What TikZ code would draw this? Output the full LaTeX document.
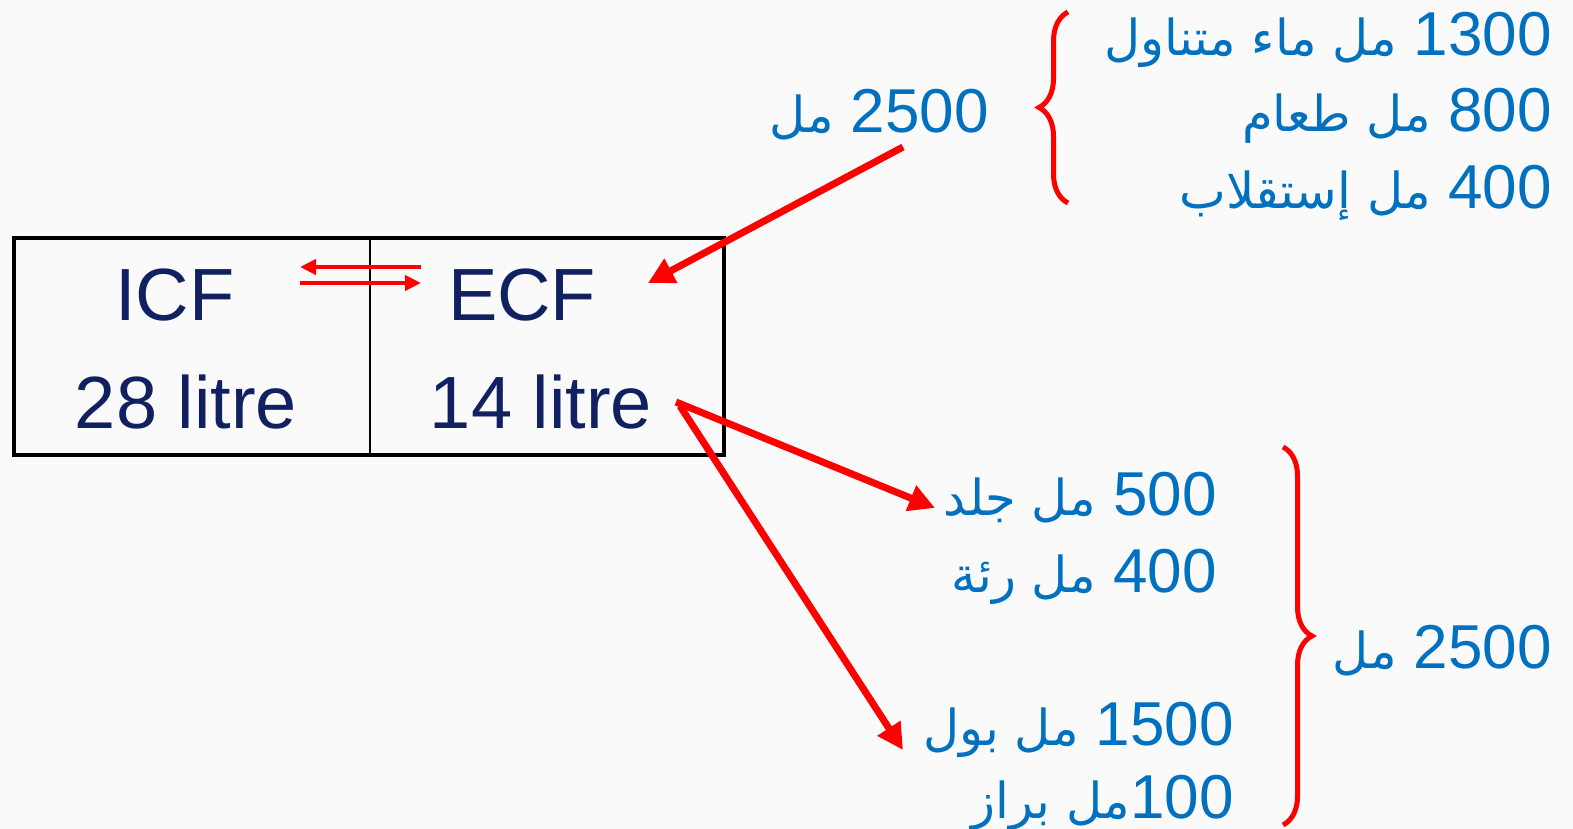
\documentclass[tikz,border=0pt]{standalone}
\usepackage{fontspec}
\setmainfont{Liberation Sans}
\newfontfamily\arabicfont[Script=Arabic,Scale=0.8]{DejaVu Sans}
\TeXXeTstate=1
\usetikzlibrary{arrows.meta,decorations.pathreplacing}
\definecolor{bgcol}{HTML}{FAFAFA}
\definecolor{labblue}{HTML}{0070C0}
\definecolor{navy}{HTML}{102060}
\definecolor{redline}{HTML}{FF0000}
\begin{document}
\begin{tikzpicture}[x=1pt,y=-1pt,
  lab/.style={text=labblue, font=\fontsize{62}{62}\selectfont, inner sep=0pt, anchor=base east},
  big/.style={text=navy, font=\fontsize{74}{74}\selectfont, inner sep=0pt, anchor=base},
  redarrow/.style={draw=redline, line width=7pt, -{Triangle[length=26pt,width=26pt]}},
  smallarrow/.style={draw=redline, line width=4pt, -{Triangle[length=16pt,width=15pt]}},
  bracestyle/.style={draw=redline, line width=5pt, decorate, decoration={brace,amplitude=29pt}}]
\fill[bgcol] (0,0) rectangle (1573,829);
\useasboundingbox (0,0) rectangle (1573,829);

% box
\node[draw, line width=4pt, minimum width=710pt, minimum height=217pt, inner sep=0pt, anchor=north west] (box) at (12,236) {};
\path (box.north) ++(1,0) coordinate (divtop) (box.south) ++(1,0) coordinate (divbot);
\draw[line width=1.5pt] (divtop) -- (divbot);

\node[big] (icf) at (175,320) {ICF};
\node[big] (icfvol) at (186,428) {28 litre};
\node[big] (ecf) at (522,320) {ECF};
\node[big] (ecfvol) at (541,428) {14 litre};

% exchange arrows
\coordinate (exA1) at (421,267);
\coordinate (exA2) at (300,267);
\coordinate (exB1) at (300,283);
\coordinate (exB2) at (421,283);
\draw[smallarrow] (exA1) -- (exA2);
\draw[smallarrow] (exB1) -- (exB2);

% intake
\node[lab] (in1) at (1552,56) {\beginR\beginL 1300\endL{} {\arabicfont مل ماء متناول}\endR};
\node[lab] (in2) at (1552,132) {\beginR\beginL 800\endL{} {\arabicfont مل طعام}\endR};
\node[lab] (in3) at (1552,208) {\beginR\beginL 400\endL{} {\arabicfont مل إستقلاب}\endR};
\node[lab] (intot) at (989,133) {\beginR\beginL 2500\endL{} {\arabicfont مل}\endR};
\draw[bracestyle] (1068,203) -- (1068,12);

% output
\node[lab] (out1) at (1217,515) {\beginR\beginL 500\endL{} {\arabicfont مل جلد}\endR};
\node[lab] (out2) at (1217,592) {\beginR\beginL 400\endL{} {\arabicfont مل رئة}\endR};
\node[lab] (out3) at (1234,745) {\beginR\beginL 1500\endL{} {\arabicfont مل بول}\endR};
\node[lab] (out4) at (1234,818) {\beginR\beginL 100\endL{\arabicfont مل براز}\endR};
\node[lab] (outtot) at (1552,668) {\beginR\beginL 2500\endL{} {\arabicfont مل}\endR};
\draw[bracestyle] (1283,447) -- (1283,825);

% arrows
\coordinate (inStart) at (903,147);
\coordinate (inEnd) at (648,283);
\coordinate (outStart) at (676,402);
\coordinate (outSkin) at (935,508);
\coordinate (outStart2) at (680,406);
\coordinate (outUrine) at (903,750);
\draw[redarrow] (inStart) -- (inEnd);
\draw[redarrow] (outStart) -- (outSkin);
\draw[redarrow] (outStart2) -- (outUrine);
\end{tikzpicture}
\end{document}
